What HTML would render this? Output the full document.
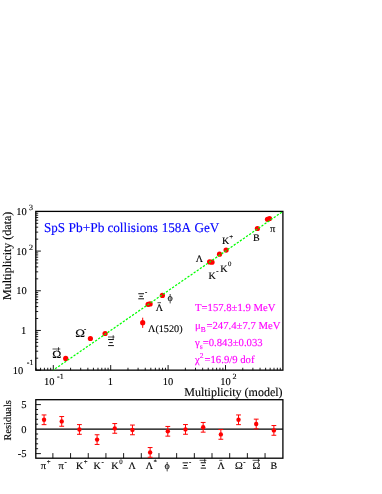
<!DOCTYPE html><html><head><meta charset="utf-8"><title>fit</title>
<style>html,body{margin:0;padding:0;background:#fff}svg{display:block}text{font-family:"Liberation Serif",serif;fill:#000;stroke:#000;stroke-width:.14px;text-rendering:geometricPrecision}.m{fill:#f0f;stroke:#f0f}.b{fill:#00f;stroke:#00f}</style></head><body>
<svg width="382" height="494" viewBox="0 0 382 494">
<rect width="382" height="494" fill="#fff"/>
<rect x="35.8" y="211.4" width="247.09999999999997" height="158.74999999999997" fill="none" stroke="#000" stroke-width="1.3"/>
<path d="M36.02 370.15v-2.4M40.57 370.15v-2.4M44.41 370.15v-2.4M47.74 370.15v-2.4M50.67 370.15v-2.4M53.30 370.15v-5.1M35.8 370.15h5.1M70.58 370.15v-2.4M35.8 358.20h2.4M80.69 370.15v-2.4M35.8 351.21h2.4M87.86 370.15v-2.4M35.8 346.25h2.4M93.42 370.15v-2.4M35.8 342.41h2.4M97.97 370.15v-2.4M35.8 339.27h2.4M101.81 370.15v-2.4M35.8 336.61h2.4M105.14 370.15v-2.4M35.8 334.31h2.4M108.07 370.15v-2.4M35.8 332.28h2.4M110.70 370.15v-5.1M35.8 330.46h5.1M127.98 370.15v-2.4M35.8 318.51h2.4M138.09 370.15v-2.4M35.8 311.52h2.4M145.26 370.15v-2.4M35.8 306.56h2.4M150.82 370.15v-2.4M35.8 302.72h2.4M155.37 370.15v-2.4M35.8 299.58h2.4M159.21 370.15v-2.4M35.8 296.92h2.4M162.54 370.15v-2.4M35.8 294.62h2.4M165.47 370.15v-2.4M35.8 292.59h2.4M168.10 370.15v-5.1M35.8 290.77h5.1M185.38 370.15v-2.4M35.8 278.82h2.4M195.49 370.15v-2.4M35.8 271.83h2.4M202.66 370.15v-2.4M35.8 266.87h2.4M208.22 370.15v-2.4M35.8 263.03h2.4M212.77 370.15v-2.4M35.8 259.89h2.4M216.61 370.15v-2.4M35.8 257.23h2.4M219.94 370.15v-2.4M35.8 254.93h2.4M222.87 370.15v-2.4M35.8 252.90h2.4M225.50 370.15v-5.1M35.8 251.08h5.1M242.78 370.15v-2.4M35.8 239.13h2.4M252.89 370.15v-2.4M35.8 232.14h2.4M260.06 370.15v-2.4M35.8 227.18h2.4M265.62 370.15v-2.4M35.8 223.34h2.4M270.17 370.15v-2.4M35.8 220.20h2.4M274.01 370.15v-2.4M35.8 217.54h2.4M277.34 370.15v-2.4M35.8 215.24h2.4M280.27 370.15v-2.4M35.8 213.21h2.4" stroke="#000" stroke-width=".9" fill="none"/>
<path d="M142.7 317.7V327.9" stroke="#f00" stroke-width="1"/>
<g fill="#f00">
<circle cx="65.7" cy="358.4" r="2.6"/>
<circle cx="90.4" cy="338.5" r="2.6"/>
<circle cx="105.1" cy="333.5" r="2.6"/>
<circle cx="148.1" cy="304.3" r="2.6"/>
<circle cx="150.1" cy="303.9" r="2.6"/>
<circle cx="162.4" cy="295.4" r="2.6"/>
<circle cx="209.6" cy="261.9" r="2.6"/>
<circle cx="212" cy="262.2" r="2.6"/>
<circle cx="219.5" cy="254.2" r="2.6"/>
<circle cx="226.1" cy="250.1" r="2.6"/>
<circle cx="257.4" cy="228.5" r="2.6"/>
<circle cx="267.5" cy="219.3" r="2.6"/>
<circle cx="269.5" cy="218.5" r="2.6"/>
<circle cx="142.7" cy="322.7" r="2.6"/>
</g>
<line x1="53.3" y1="370.1" x2="282.9" y2="211.4" stroke="#0f0" stroke-width="1.25" stroke-dasharray="2.25 1.494" stroke-dashoffset="1.54"/>
<rect x="35.8" y="399.7" width="247.09999999999997" height="58.5" fill="none" stroke="#000" stroke-width="1.3"/>
<line x1="35.8" y1="429.1" x2="282.9" y2="429.1" stroke="#000" stroke-width="1.2"/>
<path d="M35.8 453.60h5.1M35.8 448.70h2.3M35.8 443.80h2.3M35.8 438.90h2.3M35.8 434.00h2.3M35.8 424.20h2.3M35.8 419.30h2.3M35.8 414.40h2.3M35.8 409.50h2.3M35.8 404.60h5.1M52.89 458.2v-5.1M70.57 458.2v-5.1M88.25 458.2v-5.1M105.93 458.2v-5.1M123.61 458.2v-5.1M141.29 458.2v-5.1M158.97 458.2v-5.1M176.65 458.2v-5.1M194.33 458.2v-5.1M212.01 458.2v-5.1M229.69 458.2v-5.1M247.37 458.2v-5.1M265.05 458.2v-5.1" stroke="#000" stroke-width=".9" fill="none"/>
<path d="M44.05 414.95V424.65M41.65 414.95h4.8M41.65 424.65h4.8M61.73 416.55V426.25M59.33 416.55h4.8M59.33 426.25h4.8M79.41 424.60V434.30M77.01 424.60h4.8M77.01 434.30h4.8M97.09 434.75V444.45M94.69 434.75h4.8M94.69 444.45h4.8M114.77 423.55V433.25M112.37 423.55h4.8M112.37 433.25h4.8M132.45 425.05V434.75M130.05 425.05h4.8M130.05 434.75h4.8M150.13 447.55V457.25M147.73 447.55h4.8M147.73 457.25h4.8M167.81 426.45V436.15M165.41 426.45h4.8M165.41 436.15h4.8M185.49 424.55V434.25M183.09 424.55h4.8M183.09 434.25h4.8M203.17 422.45V432.15M200.77 422.45h4.8M200.77 432.15h4.8M220.85 429.55V439.25M218.45 429.55h4.8M218.45 439.25h4.8M238.53 414.95V424.65M236.13 414.95h4.8M236.13 424.65h4.8M256.21 419.15V428.85M253.81 419.15h4.8M253.81 428.85h4.8M273.89 425.55V435.25M271.49 425.55h4.8M271.49 435.25h4.8" stroke="#f00" stroke-width="1" fill="none"/>
<g fill="#f00">
<circle cx="44.05" cy="419.8" r="2.2"/>
<circle cx="61.73" cy="421.4" r="2.2"/>
<circle cx="79.41" cy="429.45" r="2.2"/>
<circle cx="97.09" cy="439.6" r="2.2"/>
<circle cx="114.77" cy="428.4" r="2.2"/>
<circle cx="132.45" cy="429.9" r="2.2"/>
<circle cx="150.13" cy="452.4" r="2.2"/>
<circle cx="167.81" cy="431.3" r="2.2"/>
<circle cx="185.49" cy="429.4" r="2.2"/>
<circle cx="203.17" cy="427.3" r="2.2"/>
<circle cx="220.85" cy="434.4" r="2.2"/>
<circle cx="238.53" cy="419.8" r="2.2"/>
<circle cx="256.21" cy="424.0" r="2.2"/>
<circle cx="273.89" cy="430.4" r="2.2"/>
</g>
<g opacity=".999">
<text x="44.0" y="232.3" font-size="13.5" class="b" text-anchor="start" textLength="21.0" lengthAdjust="spacingAndGlyphs">SpS</text>
<text x="68.6" y="232.3" font-size="13.5" class="b" text-anchor="start" textLength="35.9" lengthAdjust="spacingAndGlyphs">Pb+Pb</text>
<text x="107.4" y="232.3" font-size="13.5" class="b" text-anchor="start" textLength="50.6" lengthAdjust="spacingAndGlyphs">collisions</text>
<text x="161.7" y="232.3" font-size="13.5" class="b" text-anchor="start" textLength="29.3" lengthAdjust="spacingAndGlyphs">158A</text>
<text x="194.4" y="232.3" font-size="13.5" class="b" text-anchor="start" textLength="24.9" lengthAdjust="spacingAndGlyphs">GeV</text>
<text x="282.6" y="396" font-size="12" text-anchor="end">Multiplicity (model)</text>
<text transform="translate(10.6,300) rotate(-90)" font-size="12">Multiplicity (data)</text>
<text transform="translate(10.6,440.5) rotate(-90)" font-size="10.4">Residuals</text>
<text x="16.2" y="214.8" font-size="10.5" text-anchor="start">10</text>
<text x="29" y="210" font-size="8" text-anchor="start">3</text>
<text x="16.2" y="254.6" font-size="10.5" text-anchor="start">10</text>
<text x="29" y="249.8" font-size="8" text-anchor="start">2</text>
<text x="16.3" y="294.3" font-size="10.5" text-anchor="start">10</text>
<text x="20.9" y="333.8" font-size="10.5" text-anchor="start">1</text>
<text x="12.8" y="374" font-size="10.5" text-anchor="start">10</text>
<text x="26.8" y="365.4" font-size="8" text-anchor="start">-1</text>
<text x="43.9" y="385.3" font-size="10.5" text-anchor="start">10</text>
<text x="57" y="378.6" font-size="8" text-anchor="start">-1</text>
<text x="107.8" y="385.3" font-size="10.5" text-anchor="start">1</text>
<text x="162.8" y="385.4" font-size="10.5" text-anchor="start">10</text>
<text x="220.2" y="385.4" font-size="10.5" text-anchor="start">10</text>
<text x="232.5" y="379.1" font-size="8" text-anchor="start">2</text>
<text x="26.5" y="408.4" font-size="10.5" text-anchor="end">5</text>
<text x="26.5" y="433" font-size="10.5" text-anchor="end">0</text>
<text x="26.5" y="457.3" font-size="10.5" text-anchor="end">-5</text>
<text x="195" y="311.2" font-size="10.7" class="m" text-anchor="start">T=157.8±1.9 MeV</text>
<text x="195" y="329" font-size="10.7" class="m" text-anchor="start">μ<tspan font-size="7.5" dy="2.5">B</tspan><tspan dy="-2.5" dx="0.7">=247.4±7.7 MeV</tspan></text>
<text x="195" y="346" font-size="10.7" class="m" text-anchor="start">γ<tspan font-size="7.5" dy="2.5">s</tspan><tspan dy="-2.5">=0.843±0.033</tspan></text>
<text x="195" y="362.5" font-size="10.7" class="m" text-anchor="start">χ<tspan font-size="7.5" dy="-4.5">2</tspan><tspan dy="4.5" dx="1">=16.9/9 dof</tspan></text>
<text x="270" y="231.6" font-size="10.5" text-anchor="start">π</text>
<text x="253" y="240.8" font-size="10" text-anchor="start">B</text>
<text x="222" y="244.2" font-size="10" text-anchor="start">K<tspan font-size="6.8" dy="-5.7" dx="0">+</tspan></text>
<text x="195.8" y="261.5" font-size="10" text-anchor="start">Λ</text>
<text x="220.2" y="271.8" font-size="10" text-anchor="start">K<tspan font-size="6.8" dy="-5.7" dx="0.5">0</tspan></text>
<text x="208.6" y="278.7" font-size="10" text-anchor="start">K<tspan font-size="6.8" dy="-5.7" dx="0.5">-</tspan></text>
<text x="167.5" y="300.7" font-size="10" text-anchor="start">ϕ</text>
<text x="155.7" y="311.4" font-size="10" text-anchor="start">Λ</text>
<path d="M157.5 302.7H161" stroke="#000" stroke-width=".7"/>
<text x="148" y="332.1" font-size="10.2" text-anchor="start">Λ(1520)</text>
<text transform="translate(75.3,337) scale(1.17,1)" font-size="11.2" stroke="#000" stroke-width=".3">Ω</text>
<text x="83.9" y="331.4" font-size="6.8" text-anchor="start">-</text>
<text transform="translate(52.3,358.1) scale(1.13,1)" font-size="10.8" stroke="#000" stroke-width=".3">Ω</text>
<path d="M52.5 349H60.3M58.5 347.2V350.9" stroke="#000" stroke-width=".7" fill="none"/>
<path d="M138.3 293.75H144.0M139.4 296.30H142.9M138.3 298.80H144.0" stroke="#000" stroke-width=".95" fill="none"/>
<text x="145" y="293.7" font-size="6.8" text-anchor="start">-</text>
<path d="M108.1 339.55H113.9M109.2 342.60H112.8M108.1 345.60H113.9" stroke="#000" stroke-width=".95" fill="none"/>
<path d="M108 337H114.5M113.2 335.2V338.9" stroke="#000" stroke-width=".7" fill="none"/>
<text x="40.8" y="468.7" font-size="10.5" text-anchor="start">π<tspan font-size="6.8" dy="-4.3" dx="0.6">+</tspan></text>
<text x="58.5" y="468.7" font-size="10.5" text-anchor="start">π<tspan font-size="6.8" dy="-4.3" dx="0.6">-</tspan></text>
<text x="75.9" y="468.7" font-size="10" text-anchor="start">K<tspan font-size="6.8" dy="-4.3" dx="0.6">+</tspan></text>
<text x="93.6" y="468.7" font-size="10" text-anchor="start">K<tspan font-size="6.8" dy="-4.3" dx="0.6">-</tspan></text>
<text x="111.3" y="468.7" font-size="10" text-anchor="start">K<tspan font-size="6.8" dy="-4.3" dx="0.6">0</tspan></text>
<text x="128.4" y="468.7" font-size="10" text-anchor="start">Λ</text>
<text x="145.7" y="468.7" font-size="10" text-anchor="start">Λ<tspan font-size="6.8" dy="-4.3" dx="0.5">*</tspan></text>
<text x="164.5" y="468.7" font-size="10" text-anchor="start">ϕ</text>
<path d="M182.6 462.85H188.1M183.7 465.50H187.0M182.6 468.10H188.1" stroke="#000" stroke-width=".95" fill="none"/>
<text x="188.9" y="464.4" font-size="6.8" text-anchor="start">-</text>
<path d="M200.7 462.75H206.0M201.8 465.45H204.9M200.7 468.10H206.0" stroke="#000" stroke-width=".95" fill="none"/>
<path d="M199.6 460.3H206.4M204.7 458.5V462.2" stroke="#000" stroke-width=".7" fill="none"/>
<text x="217.4" y="468.7" font-size="10" text-anchor="start">Λ</text>
<path d="M219.3 460.3H222.3" stroke="#000" stroke-width=".7"/>
<text x="234.9" y="468.7" font-size="10.5" text-anchor="start">Ω<tspan font-size="6.8" dy="-4.3" dx="0.6">-</tspan></text>
<text x="252.4" y="468.7" font-size="10.5" text-anchor="start">Ω</text>
<path d="M252.6 460.3H260.0M258.4 458.5V462.2" stroke="#000" stroke-width=".7" fill="none"/>
<text x="270.6" y="468.7" font-size="10" text-anchor="start">B</text>
</g>
</svg></body></html>
